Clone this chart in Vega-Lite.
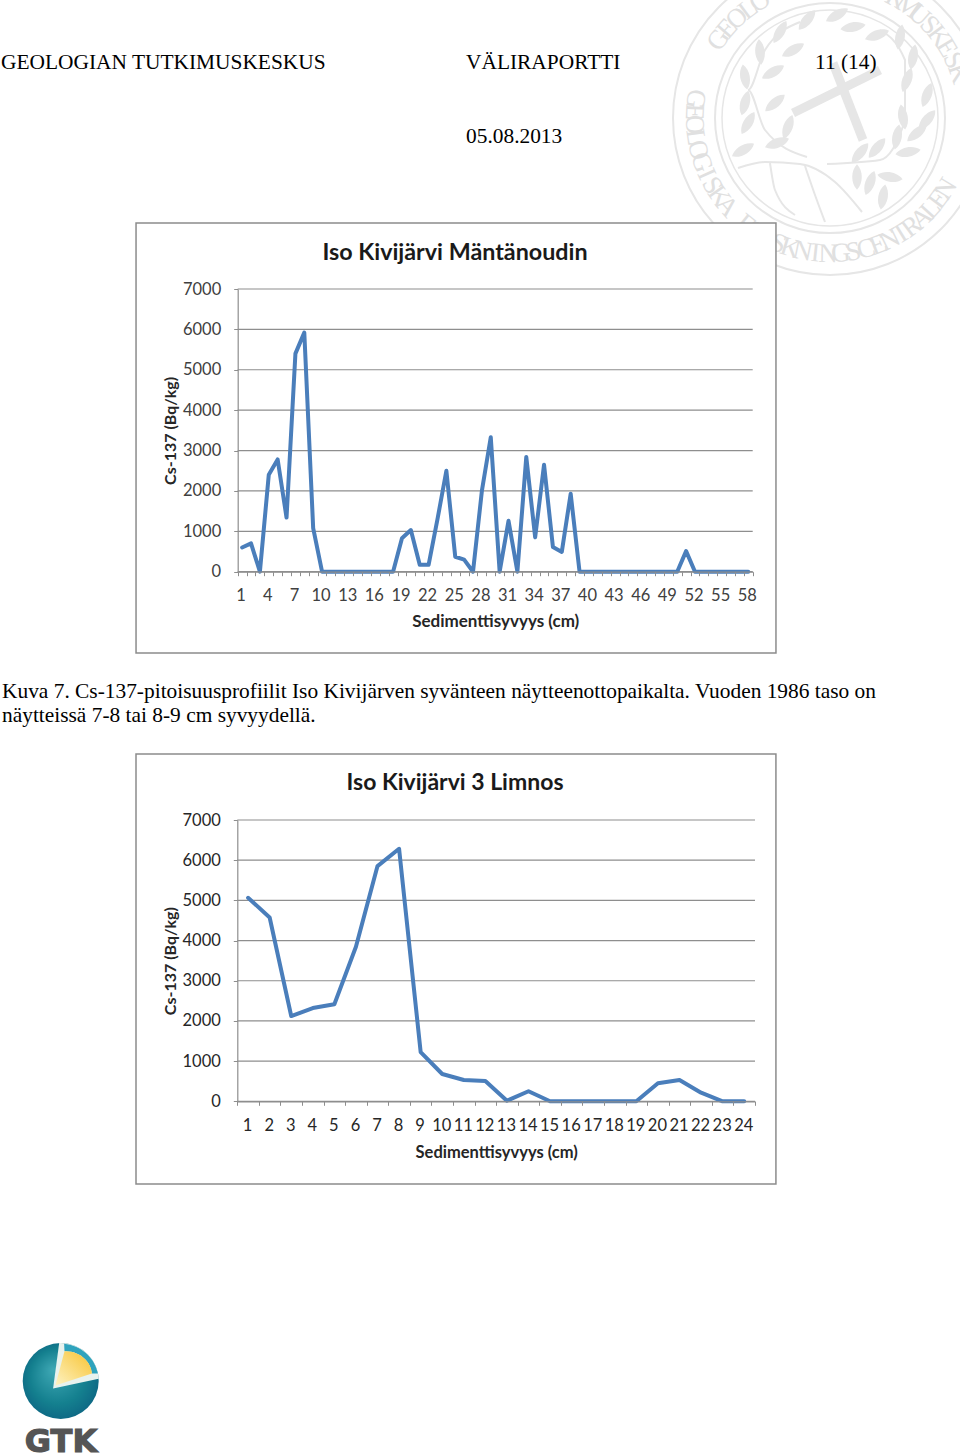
{
"$schema":"https://vega.github.io/schema/vega-lite/v6.json",
"background":"white","padding":0,"spacing":0,"bounds":"flush",
"config":{"view":{"stroke":null}},
"resolve":{"scale":{"x":"independent","y":"independent"}},
"datasets":{
 "rings":[{"ring":98596,"w":2},{"ring":52900,"w":2},{"ring":46656,"w":1.5}],
 "letters":[{"ch":"G","deg":305,"rot":305},{"ch":"E","deg":311,"rot":311},{"ch":"O","deg":317,"rot":317},{"ch":"L","deg":323,"rot":323},{"ch":"O","deg":329,"rot":329},{"ch":"K","deg":29,"rot":29},{"ch":"M","deg":35,"rot":35},{"ch":"U","deg":41,"rot":41},{"ch":"S","deg":47,"rot":47},{"ch":"K","deg":53,"rot":53},{"ch":"E","deg":59,"rot":59},{"ch":"S","deg":65,"rot":65},{"ch":"K","deg":71,"rot":71},{"ch":"G","deg":278,"rot":98},{"ch":"E","deg":272.6,"rot":92.6},{"ch":"O","deg":267.2,"rot":87.2},{"ch":"L","deg":261.8,"rot":81.8},{"ch":"O","deg":256.4,"rot":76.4},{"ch":"G","deg":251,"rot":71},{"ch":"I","deg":245.6,"rot":65.6},{"ch":"S","deg":240.2,"rot":60.2},{"ch":"K","deg":234.8,"rot":54.8},{"ch":"A","deg":229.4,"rot":49.4},{"ch":"F","deg":218.6,"rot":38.6},{"ch":"O","deg":213.2,"rot":33.2},{"ch":"R","deg":207.8,"rot":27.8},{"ch":"S","deg":202.4,"rot":22.4},{"ch":"K","deg":197,"rot":17},{"ch":"N","deg":191.6,"rot":11.6},{"ch":"I","deg":186.2,"rot":6.2},{"ch":"N","deg":180.8,"rot":0.8},{"ch":"G","deg":175.4,"rot":355.4},{"ch":"S","deg":170,"rot":350},{"ch":"C","deg":164.6,"rot":344.6},{"ch":"E","deg":159.2,"rot":339.2},{"ch":"N","deg":153.8,"rot":333.8},{"ch":"T","deg":148.4,"rot":328.4},{"ch":"R","deg":143,"rot":323},{"ch":"A","deg":137.6,"rot":317.6},{"ch":"L","deg":132.2,"rot":312.2},{"ch":"E","deg":126.8,"rot":306.8},{"ch":"N","deg":121.4,"rot":301.4}]
},
"vconcat":[
{"width":960,"height":223,"layer":[
 {"data":{"name":"rings"},"mark":{"type":"point","filled":false,"stroke":"#e6e6e6","clip":true,"opacity":1},
  "encoding":{"x":{"datum":830,"type":"quantitative","scale":{"domain":[0,960],"range":[0,960]},"axis":null},"y":{"datum":118,"type":"quantitative","scale":{"domain":[0,223],"range":[0,223]},"axis":null},"size":{"field":"ring","type":"quantitative","scale":{"domain":[0,100000],"range":[0,100000]},"legend":null},"strokeWidth":{"field":"w","type":"quantitative","scale":{"domain":[0,10],"range":[0,10]},"legend":null}}},
 {"data":{"values":[{"b":"l","o":1,"x":807,"y":157},{"b":"l","o":2,"x":765,"y":130},{"b":"l","o":3,"x":748,"y":90},{"b":"l","o":4,"x":765,"y":50},{"b":"l","o":5,"x":800,"y":22},{"b":"r","o":1,"x":827,"y":164},{"b":"r","o":2,"x":880,"y":160},{"b":"r","o":3,"x":905,"y":120},{"b":"r","o":4,"x":905,"y":60},{"b":"r","o":5,"x":880,"y":30},{"b":"g","o":1,"x":738,"y":168},{"b":"g","o":2,"x":765,"y":162},{"b":"g","o":3,"x":800,"y":164},{"b":"g","o":4,"x":835,"y":182},{"b":"g","o":5,"x":862,"y":212},{"b":"m","o":1,"x":770,"y":163},{"b":"m","o":2,"x":775,"y":190},{"b":"m","o":3,"x":795,"y":215},{"b":"n","o":1,"x":805,"y":166},{"b":"n","o":2,"x":815,"y":195},{"b":"n","o":3,"x":825,"y":222}]},
  "mark":{"type":"line","stroke":"#e6e6e6","strokeWidth":2,"interpolate":"monotone","clip":true},
  "encoding":{"x":{"field":"x","type":"quantitative","scale":{"domain":[0,960],"range":[0,960]},"axis":null},"y":{"field":"y","type":"quantitative","scale":{"domain":[0,223],"range":[0,223]},"axis":null},"detail":{"field":"b"},"order":{"field":"o","type":"quantitative"}}},
 {"data":{"values":[{"x":793,"y":113,"x2":880,"y2":70},{"x":833,"y":63,"x2":863,"y2":140}]},"mark":{"type":"rule","stroke":"#e6e6e6","strokeWidth":9,"clip":true},
  "encoding":{"x":{"field":"x","type":"quantitative","scale":{"domain":[0,960],"range":[0,960]},"axis":null},"y":{"field":"y","type":"quantitative","scale":{"domain":[0,223],"range":[0,223]},"axis":null},"x2":{"field":"x2"},"y2":{"field":"y2"}}},
 {"data":{"values":[{"x":743,"y":150,"a":60},{"x":777,"y":143,"a":70},{"x":748,"y":123,"a":30},{"x":788,"y":127,"a":20},{"x":745,"y":103,"a":15},{"x":775,"y":103,"a":50},{"x":745,"y":77,"a":170},{"x":773,"y":72,"a":60},{"x":760,"y":52,"a":175},{"x":793,"y":50,"a":60},{"x":780,"y":32,"a":30},{"x":807,"y":20,"a":40},{"x":837,"y":15,"a":60},{"x":853,"y":27,"a":80},{"x":877,"y":35,"a":70},{"x":900,"y":37,"a":10},{"x":913,"y":57,"a":10},{"x":907,"y":80,"a":20},{"x":927,"y":95,"a":20},{"x":903,"y":117,"a":170},{"x":927,"y":120,"a":40},{"x":897,"y":137,"a":10},{"x":917,"y":133,"a":50},{"x":908,"y":152,"a":80},{"x":877,"y":148,"a":40},{"x":860,"y":153,"a":40},{"x":890,"y":177,"a":100},{"x":870,"y":183,"a":20},{"x":857,"y":177,"a":0},{"x":883,"y":197,"a":10}]},
  "mark":{"type":"point","filled":true,"fill":"#e6e6e6","opacity":1,"size":650,"shape":"M0,-1C.5,-.5 .5,.5 0,1C-.5,.5 -.5,-.5 0,-1Z","clip":true},
  "encoding":{"x":{"field":"x","type":"quantitative","scale":{"domain":[0,960],"range":[0,960]},"axis":null},"y":{"field":"y","type":"quantitative","scale":{"domain":[0,223],"range":[0,223]},"axis":null},"angle":{"field":"a","type":"quantitative","scale":{"domain":[0,360],"range":[0,360]},"legend":null}}},
 {"data":{"name":"letters"},
  "mark":{"type":"text","font":"Liberation Serif","fontSize":27,"fill":"#e0e0e0","align":"center","baseline":"middle","clip":true,"radius":136},
  "encoding":{"x":{"datum":830,"type":"quantitative","scale":{"domain":[0,960],"range":[0,960]},"axis":null},"y":{"datum":118,"type":"quantitative","scale":{"domain":[0,223],"range":[0,223]},"axis":null},"theta":{"field":"deg","type":"quantitative","scale":{"domain":[0,360],"range":[0,6.28319]}},"angle":{"field":"rot","type":"quantitative","scale":{"domain":[0,360],"range":[0,360]},"legend":null},"text":{"field":"ch"}}},
 {"data":{"values":[{"text":"GEOLOGIAN TUTKIMUSKESKUS","col":1,"line":69},{"text":"VÄLIRAPORTTI","col":466,"line":69},{"text":"11 (14)","col":815,"line":69},{"text":"05.08.2013","col":466,"line":143}]},
  "mark":{"type":"text","font":"Liberation Serif","fontSize":21.4,"fill":"#000000","align":"left","baseline":"alphabetic"},
  "encoding":{"x":{"field":"col","type":"quantitative","scale":{"domain":[0,960],"range":[0,960]},"axis":null},"y":{"field":"line","type":"quantitative","scale":{"domain":[0,223],"range":[0,223]},"axis":null},"text":{"field":"text"}}}
]},
{"width":960,"height":431,
 "title":{"text":"Iso Kivijärvi Mäntänoudin","font":"Lato","fontWeight":"bold","fontSize":23.3,"color":"#1a1a1a","anchor":"middle","frame":"group","dx":-25,"dy":61,"offset":0,"baseline":"alphabetic"},
 "resolve":{"axis":{"x":"independent","y":"independent"}},
 "layer":[
 {"data":{"name":"rings"},"mark":{"type":"point","filled":false,"stroke":"#e6e6e6","clip":true,"opacity":1},
  "encoding":{"x":{"datum":67.2,"type":"quantitative","scale":{"domain":[0.5,58.5],"range":[237.7,752.7]},"axis":null},"y":{"datum":11233,"type":"quantitative","scale":{"domain":[0,7000],"range":[348.7,66]},"axis":null},"size":{"field":"ring","type":"quantitative","scale":{"domain":[0,100000],"range":[0,100000]},"legend":null},"strokeWidth":{"field":"w","type":"quantitative","scale":{"domain":[0,10],"range":[0,10]},"legend":null}}},
 {"data":{"name":"letters"},
  "mark":{"type":"text","font":"Liberation Serif","fontSize":27,"fill":"#e0e0e0","align":"center","baseline":"middle","clip":true,"radius":136},
  "encoding":{"x":{"datum":67.2,"type":"quantitative","scale":{"domain":[0.5,58.5],"range":[237.7,752.7]},"axis":null},"y":{"datum":11233,"type":"quantitative","scale":{"domain":[0,7000],"range":[348.7,66]},"axis":null},"theta":{"field":"deg","type":"quantitative","scale":{"domain":[0,360],"range":[0,6.28319]}},"angle":{"field":"rot","type":"quantitative","scale":{"domain":[0,360],"range":[0,360]},"legend":null},"text":{"field":"ch"}}},
 {"data":{"values":[{}]},"mark":{"type":"rect","fill":"white","stroke":"#8c8c8c","strokeWidth":1.5},
  "encoding":{"x":{"datum":-10.95,"type":"quantitative","scale":{"domain":[0.5,58.5],"range":[237.7,752.7]},"axis":null},"x2":{"datum":61.12},"y":{"datum":8634,"type":"quantitative","scale":{"domain":[0,7000],"range":[348.7,66]},"axis":null},"y2":{"datum":-2013}}},
 {"data":{"values":[{"v":0},{"v":1000},{"v":2000},{"v":3000},{"v":4000},{"v":5000},{"v":6000},{"v":7000}]},
  "mark":{"type":"rule","stroke":"#8e8e8e","strokeWidth":1.2},
  "encoding":{
   "x":{"datum":0.5,"type":"quantitative","scale":{"domain":[0.5,58.5],"range":[237.7,752.7]},"axis":{"orient":"bottom","zindex":1,"offset":-82.3,"values":[0.5,1.5,2.5,3.5,4.5,5.5,6.5,7.5,8.5,9.5,10.5,11.5,12.5,13.5,14.5,15.5,16.5,17.5,18.5,19.5,20.5,21.5,22.5,23.5,24.5,25.5,26.5,27.5,28.5,29.5,30.5,31.5,32.5,33.5,34.5,35.5,36.5,37.5,38.5,39.5,40.5,41.5,42.5,43.5,44.5,45.5,46.5,47.5,48.5,49.5,50.5,51.5,52.5,53.5,54.5,55.5,56.5,57.5,58.5],"labels":false,"grid":false,"title":null,"domainColor":"#8e8e8e","tickColor":"#8e8e8e","tickSize":4,"domainWidth":1.2}},
   "x2":{"datum":58.5},
   "y":{"field":"v","type":"quantitative","scale":{"domain":[0,7000],"range":[348.7,66]},"axis":{"orient":"left","zindex":1,"offset":-237.7,"values":[0,1000,2000,3000,4000,5000,6000,7000],"format":"d","grid":false,"title":"Cs-137 (Bq/kg)","titleFont":"Lato","titleFontSize":16,"titleFontWeight":"bold","titleColor":"#262626","titlePadding":4,"labelFont":"Lato","labelFontSize":16.5,"labelColor":"#404040","labelPadding":13,"domainColor":"#8e8e8e","tickColor":"#8e8e8e","tickSize":4,"domainWidth":1.2}}}},
 {"data":{"values":[{"d":1,"c":600},{"d":2,"c":700},{"d":3,"c":0},{"d":4,"c":2400},{"d":5,"c":2780},{"d":6,"c":1340},{"d":7,"c":5400},{"d":8,"c":5920},{"d":9,"c":1080},{"d":10,"c":0},{"d":11,"c":0},{"d":12,"c":0},{"d":13,"c":0},{"d":14,"c":0},{"d":15,"c":0},{"d":16,"c":0},{"d":17,"c":0},{"d":18,"c":0},{"d":19,"c":830},{"d":20,"c":1030},{"d":21,"c":170},{"d":22,"c":170},{"d":23,"c":1300},{"d":24,"c":2500},{"d":25,"c":370},{"d":26,"c":300},{"d":27,"c":0},{"d":28,"c":2000},{"d":29,"c":3330},{"d":30,"c":0},{"d":31,"c":1260},{"d":32,"c":0},{"d":33,"c":2840},{"d":34,"c":850},{"d":35,"c":2650},{"d":36,"c":610},{"d":37,"c":490},{"d":38,"c":1930},{"d":39,"c":0},{"d":40,"c":0},{"d":41,"c":0},{"d":42,"c":0},{"d":43,"c":0},{"d":44,"c":0},{"d":45,"c":0},{"d":46,"c":0},{"d":47,"c":0},{"d":48,"c":0},{"d":49,"c":0},{"d":50,"c":0},{"d":51,"c":510},{"d":52,"c":0},{"d":53,"c":0},{"d":54,"c":0},{"d":55,"c":0},{"d":56,"c":0},{"d":57,"c":0},{"d":58,"c":0}]},
  "mark":{"type":"line","stroke":"#4a7ebb","strokeWidth":4,"strokeJoin":"round","strokeCap":"round"},
  "encoding":{
   "x":{"field":"d","type":"quantitative","scale":{"domain":[0.5,58.5],"range":[237.7,752.7]},"axis":{"orient":"bottom","zindex":1,"offset":-82.3,"values":[1,4,7,10,13,16,19,22,25,28,31,34,37,40,43,46,49,52,55,58],"format":"d","grid":false,"ticks":false,"domain":false,"title":"Sedimenttisyvyys (cm)","titleFont":"Lato","titleFontSize":17,"titleFontWeight":"bold","titleColor":"#262626","titlePadding":9,"labelFont":"Lato","labelFontSize":16.5,"labelColor":"#404040","labelPadding":16,"labelOffset":-1.5,"labelOverlap":false}},
   "y":{"field":"c","type":"quantitative","scale":{"domain":[0,7000],"range":[348.7,66]},"axis":null}}}
 ]},
{"width":960,"height":100,
 "data":{"values":[{"text":"Kuva 7. Cs-137-pitoisuusprofiilit Iso Kivijärven syvänteen näytteenottopaikalta. Vuoden 1986 taso on","col":2,"line":44},{"text":"näytteissä 7-8 tai 8-9 cm syvyydellä.","col":2,"line":68}]},
 "mark":{"type":"text","font":"Liberation Serif","fontSize":21.4,"fill":"#000000","align":"left","baseline":"alphabetic"},
 "encoding":{"x":{"field":"col","type":"quantitative","scale":{"domain":[0,960],"range":[0,960]},"axis":null},"y":{"field":"line","type":"quantitative","scale":{"domain":[0,100],"range":[0,100]},"axis":null},"text":{"field":"text"}}},
{"width":960,"height":431,
 "title":{"text":"Iso Kivijärvi 3 Limnos","font":"Lato","fontWeight":"bold","fontSize":23,"color":"#1a1a1a","anchor":"middle","frame":"group","dx":-25,"dy":60,"offset":0,"baseline":"alphabetic"},
 "resolve":{"axis":{"x":"independent","y":"independent"}},
 "layer":[
 {"data":{"values":[{}]},"mark":{"type":"rect","fill":"white","stroke":"#8c8c8c","strokeWidth":1.5},
  "encoding":{"x":{"datum":-4.196,"type":"quantitative","scale":{"domain":[0.5,24.5],"range":[237.3,755]},"axis":null},"x2":{"datum":25.47},"y":{"datum":8642,"type":"quantitative","scale":{"domain":[0,7000],"range":[347.3,66]},"axis":null},"y2":{"datum":-2058}}},
 {"data":{"values":[{"v":0},{"v":1000},{"v":2000},{"v":3000},{"v":4000},{"v":5000},{"v":6000},{"v":7000}]},
  "mark":{"type":"rule","stroke":"#8e8e8e","strokeWidth":1.2},
  "encoding":{
   "x":{"datum":0.5,"type":"quantitative","scale":{"domain":[0.5,24.5],"range":[237.3,755]},"axis":{"orient":"bottom","zindex":1,"offset":-83.7,"values":[0.5,1.5,2.5,3.5,4.5,5.5,6.5,7.5,8.5,9.5,10.5,11.5,12.5,13.5,14.5,15.5,16.5,17.5,18.5,19.5,20.5,21.5,22.5,23.5,24.5],"labels":false,"grid":false,"title":null,"domainColor":"#8e8e8e","tickColor":"#8e8e8e","tickSize":4,"domainWidth":1.2}},
   "x2":{"datum":24.5},
   "y":{"field":"v","type":"quantitative","scale":{"domain":[0,7000],"range":[347.3,66]},"axis":{"orient":"left","zindex":1,"offset":-237.3,"values":[0,1000,2000,3000,4000,5000,6000,7000],"format":"d","grid":false,"title":"Cs-137 (Bq/kg)","titleFont":"Lato","titleFontSize":16,"titleFontWeight":"bold","titleColor":"#262626","titlePadding":4,"labelFont":"Lato","labelFontSize":16.5,"labelColor":"#262626","labelPadding":13,"domainColor":"#8e8e8e","tickColor":"#8e8e8e","tickSize":4,"domainWidth":1.2}}}},
 {"data":{"values":[{"d":1,"c":5065},{"d":2,"c":4575},{"d":3,"c":2122},{"d":4,"c":2320},{"d":5,"c":2415},{"d":6,"c":3845},{"d":7,"c":5853},{"d":8,"c":6283},{"d":9,"c":1226},{"d":10,"c":680},{"d":11,"c":530},{"d":12,"c":505},{"d":13,"c":15},{"d":14,"c":250},{"d":15,"c":0},{"d":16,"c":0},{"d":17,"c":0},{"d":18,"c":0},{"d":19,"c":0},{"d":20,"c":448},{"d":21,"c":530},{"d":22,"c":215},{"d":23,"c":0},{"d":24,"c":0}]},
  "mark":{"type":"line","stroke":"#4a7ebb","strokeWidth":4,"strokeJoin":"round","strokeCap":"round"},
  "encoding":{
   "x":{"field":"d","type":"quantitative","scale":{"domain":[0.5,24.5],"range":[237.3,755]},"axis":{"orient":"bottom","zindex":1,"offset":-83.7,"values":[1,2,3,4,5,6,7,8,9,10,11,12,13,14,15,16,17,18,19,20,21,22,23,24],"format":"d","grid":false,"ticks":false,"domain":false,"title":"Sedimenttisyvyys (cm)","titleFont":"Lato","titleFontSize":16.5,"titleFontWeight":"bold","titleColor":"#262626","titlePadding":11,"labelFont":"Lato","labelFontSize":16.5,"labelColor":"#262626","labelPadding":16,"labelOffset":-1,"labelOverlap":false}},
   "y":{"field":"c","type":"quantitative","scale":{"domain":[0,7000],"range":[347.3,66]},"axis":null}}}
 ]},
{"width":960,"height":270,
 "layer":[
 {"data":{"values":[{"part":"sphere"}]},"mark":{"type":"point","filled":true,"opacity":1,"size":5776,"shape":"circle","fill":{"gradient":"radial","x1":0.4,"y1":0.35,"r1":0,"x2":0.5,"y2":0.5,"r2":0.6,"stops":[{"offset":0,"color":"#3fa8b5"},{"offset":0.6,"color":"#14808f"},{"offset":1,"color":"#0b5f80"}]}},
  "encoding":{"x":{"datum":60.7,"type":"quantitative","scale":{"domain":[0,960],"range":[0,960]},"axis":null},"y":{"datum":196,"type":"quantitative","scale":{"domain":[0,270],"range":[0,270]},"axis":null}}},
 {"data":{"values":[{"part":"cut"}]},"mark":{"type":"point","filled":true,"opacity":1,"size":5776,"fill":"#e8f2ee","shape":"M-.2,.2L-.04,-1A1,1 0 0 1 1,-.06Z"},
  "encoding":{"x":{"datum":60.7,"type":"quantitative","scale":{"domain":[0,960],"range":[0,960]},"axis":null},"y":{"datum":196,"type":"quantitative","scale":{"domain":[0,270],"range":[0,270]},"axis":null}}},
 {"data":{"values":[{"part":"mantle"}]},"mark":{"type":"point","filled":true,"opacity":1,"size":5776,"fill":"#2fa3bd","shape":"M.09,-.98A1,1 0 0 1 .98,-.2L.82,-.2C.8,-.5 .5,-.8 .1,-.78Z"},
  "encoding":{"x":{"datum":60.7,"type":"quantitative","scale":{"domain":[0,960],"range":[0,960]},"axis":null},"y":{"datum":196,"type":"quantitative","scale":{"domain":[0,270],"range":[0,270]},"axis":null}}},
 {"data":{"values":[{"part":"core"}]},"mark":{"type":"point","filled":true,"opacity":1,"size":5776,"shape":"M-.14,.12L.1,-.78C.5,-.8 .8,-.5 .82,-.2Z","fill":{"gradient":"linear","x1":0,"y1":1,"x2":1,"y2":0,"stops":[{"offset":0,"color":"#fdf3c4"},{"offset":1,"color":"#f8c22e"}]}},
  "encoding":{"x":{"datum":60.7,"type":"quantitative","scale":{"domain":[0,960],"range":[0,960]},"axis":null},"y":{"datum":196,"type":"quantitative","scale":{"domain":[0,270],"range":[0,270]},"axis":null}}},
 {"data":{"values":[{"t":"GTK"}]},"mark":{"type":"text","font":"DejaVu Sans","fontWeight":"bold","fontSize":32,"fill":"#555555","stroke":"#555555","strokeWidth":1.2,"align":"center","baseline":"alphabetic"},
  "encoding":{"x":{"datum":61,"type":"quantitative","scale":{"domain":[0,960],"range":[0,960]},"axis":null},"y":{"datum":267,"type":"quantitative","scale":{"domain":[0,270],"range":[0,270]},"axis":null},"text":{"field":"t"}}}
 ]}
]}
